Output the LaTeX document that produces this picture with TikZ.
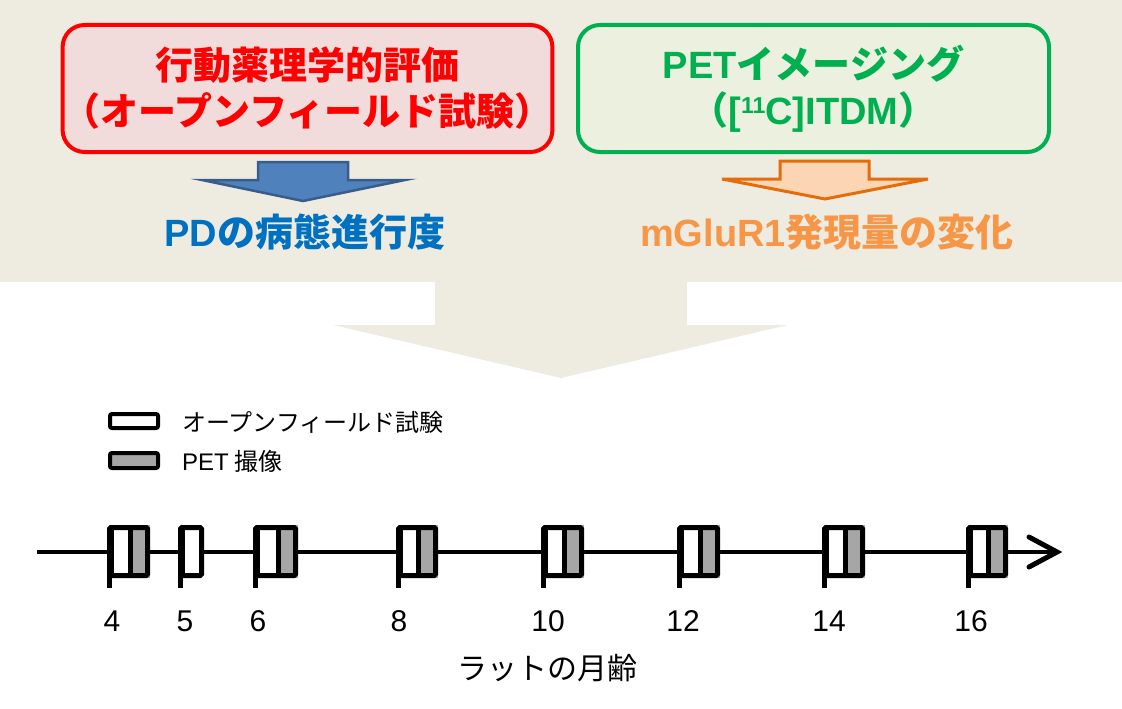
\documentclass[tikz,border=0pt]{standalone}
\usepackage{fontspec}
\newfontfamily\jp{Noto Sans CJK JP}
\newfontfamily\ar{Liberation Sans}
\definecolor{bgtan}{HTML}{EEECE1}
\definecolor{redB}{HTML}{FF0000}
\definecolor{redF}{HTML}{F2DCDB}
\definecolor{greenB}{HTML}{00B050}
\definecolor{greenF}{HTML}{EBF1DE}
\definecolor{blueF}{HTML}{4F81BD}
\definecolor{blueB}{HTML}{385D8A}
\definecolor{blueT}{HTML}{0070C0}
\definecolor{orgF}{HTML}{FCD5B5}
\definecolor{orgB}{HTML}{E46C0A}
\definecolor{orgT}{HTML}{F79646}
\definecolor{pgray}{HTML}{A6A6A6}
\tikzset{
  topbox/.style={line width=4, rounded corners=22, minimum width=471, minimum height=127,
    align=center, inner sep=0, font=\jp\bfseries\fontsize{38}{46}\selectfont},
  rbox/.style={topbox, draw=redB, fill=redF, text=redB},
  gbox/.style={topbox, draw=greenB, fill=greenF, text=greenB},
  result/.style={inner sep=0, font=\jp\bfseries\fontsize{38}{46}\selectfont},
  blockarrow/.style={line width=2.5, line join=miter},
  tline/.style={line width=4},
  tbox/.style={line width=5, rounded corners=1.5},
  tick/.style={line width=5},
  numlab/.style={inner sep=0, font=\ar\fontsize{30}{30}\selectfont},
  legtext/.style={inner sep=0, anchor=west, font=\jp\fontsize{24}{24}\selectfont},
  legbox/.style={line width=4, rounded corners=2},
}
\begin{document}
\begin{tikzpicture}[x=1pt, y=-1pt]
\useasboundingbox (0,0) rectangle (1122,709);
% beige band and big arrow
\fill[bgtan] (0,0) rectangle (1122,282);
\fill[bgtan] (435,281) -- (435,325) -- (333,325) -- (561,378) -- (788,325) -- (687,325) -- (687,281) -- cycle;
% top boxes
\node[rbox] (eval) at (307.5,88.5) {行動薬理学的評価\\（オープンフィールド試験）};
\node[gbox] (pet) at (813.5,88.5) {{\ar PET}イメージング\\（{\ar [\raisebox{11pt}{\fontsize{23}{23}\selectfont 11}C]ITDM}）};
% block arrows
\draw[blockarrow, draw=blueB, fill=blueF] (258,162) -- (348,162) -- (348,180) -- (405,180) -- (303,201) -- (202,180) -- (258,180) -- cycle;
\draw[blockarrow, line width=3, draw=orgB, fill=orgF] (780,161) -- (869,161) -- (869,179) -- (928,179) -- (825,199) -- (722,179) -- (780,179) -- cycle;
% results
\node[result, text=blueT] (pd) at (305,232) {{\ar PD}の病態進行度};
\node[result, text=orgT] (mglu) at (827,232) {{\ar mGluR1}発現量の変化};
% legend
\draw[legbox, fill=white] (110,414) rectangle (158,428);
\node[legtext] (leg1) at (182,422) {オープンフィールド試験};
\draw[legbox, fill=pgray] (110,453) rectangle (158,468);
\node[legtext] (leg2) at (182,461) {{\ar PET} 撮像};
% timeline
\coordinate (tstart) at (37,552);
\coordinate (tend) at (1057,552);
\draw[tline] (tstart) -- (tend);
\draw[line width=5, line cap=round, line join=miter] ([shift={(-28,-15)}]tend) -- (tend) -- ([shift={(-28,15)}]tend);
\foreach \L/\W/\G in {107/43/1, 178/26/0, 253/45/1, 396/42/1, 541/43/1, 677/43/1, 822/43/1, 966/42/1} {
  \fill[white] (\L,525) rectangle (\L+\W,578);
  \ifnum\G=1
    \fill[pgray] (\L+\W-20,525) rectangle (\L+\W,578);
    \draw[line width=5] (\L+\W-20,527) -- (\L+\W-20,576);
  \fi
  \draw[tbox] (\L+2.5,527.5) rectangle (\L+\W-2.5,575.5);
  \draw[tick] (\L+2.5,527.5) -- (\L+2.5,588);
  \draw[line width=3] (\L+5.5,527.5) -- (\L+5.5,575.5);
}
\node[numlab] (m4) at (112,621) {4};
\node[numlab] (m5) at (185,621) {5};
\node[numlab] (m6) at (258,621) {6};
\node[numlab] (m8) at (399,621) {8};
\node[numlab] (m10) at (548,621) {10};
\node[numlab] (m12) at (683,621) {12};
\node[numlab] (m14) at (829,621) {14};
\node[numlab] (m16) at (971,621) {16};
\node[inner sep=0, font=\jp\fontsize{30}{30}\selectfont] (age) at (547,668) {ラットの月齢};
\end{tikzpicture}
\end{document}
